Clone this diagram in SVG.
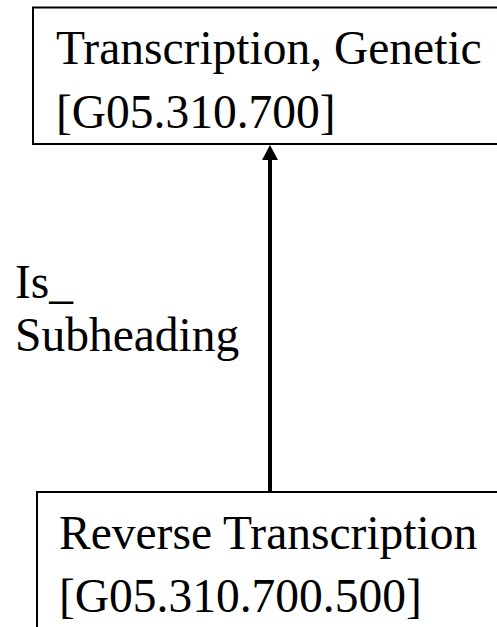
<svg xmlns="http://www.w3.org/2000/svg" width="497" height="627" viewBox="0 0 497 627">
  <style>
    .box { fill: #ffffff; stroke: #000000; stroke-width: 2; }
    .t { font-family: "Liberation Serif", "Times New Roman", serif; font-size: 47.5px; fill: #000000; }
    .edge { stroke: #000000; stroke-width: 4; fill: none; }
  </style>
  <defs>
    <marker id="arrow" viewBox="0 0 16 16" refX="8" refY="0" markerWidth="16" markerHeight="16" markerUnits="userSpaceOnUse" orient="auto-start-reverse">
      <path d="M0,16 L8,0 L16,16 Z" fill="#000000"/>
    </marker>
  </defs>
  <rect width="497" height="627" fill="#ffffff"/>
  <g id="node-transcription-genetic">
    <rect class="box" x="33" y="7.5" width="480" height="136.5"/>
    <text class="t" x="56" y="64">Transcription, Genetic</text>
    <text class="t" x="56" y="128">[G05.310.700]</text>
  </g>
  <g id="node-reverse-transcription">
    <rect class="box" x="37" y="492" width="480" height="160"/>
    <text class="t" x="59" y="549">Reverse Transcription</text>
    <text class="t" x="59" y="612">[G05.310.700.500]</text>
  </g>
  <g id="connectors">
    <line class="edge" x1="270" y1="491" x2="270" y2="160"/>
    <path d="M262,160 L270,145 L278,160 Z" fill="#000000"/>
    <text class="t" x="15" y="298">Is_</text>
    <text class="t" x="15" y="351">Subheading</text>
  </g>
</svg>
